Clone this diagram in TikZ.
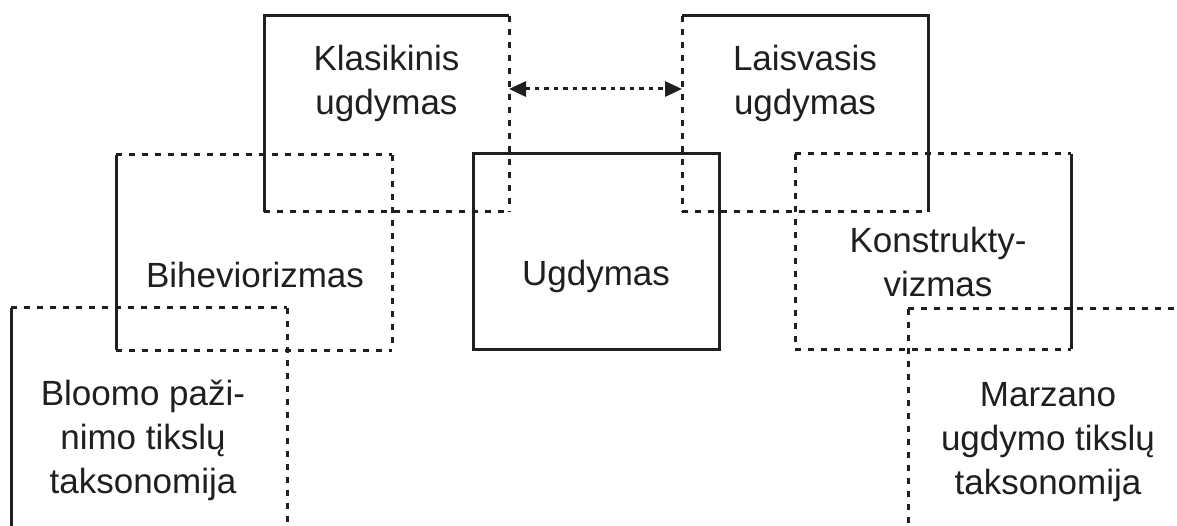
\documentclass[tikz,border=0pt]{standalone}
\usepackage{fontspec}
\setmainfont{Liberation Sans}
\usetikzlibrary{arrows.meta}

\tikzset{
  frame/.style={rectangle, inner sep=0pt, outer sep=0pt},
  solidedge/.style={line width=3pt, line cap=butt, line join=miter, draw=black!88},
  dashedge/.style={line width=3pt, draw=black!88, dash pattern=on 6pt off 7pt},
  label/.style={align=center, inner sep=0pt, text=black!88,
    font=\fontsize{35}{44}\selectfont},
  relation/.style={line width=3pt, draw=black!88, dash pattern=on 4.5pt off 5pt,
    {Triangle[length=17pt, width=15pt]}-{Triangle[length=17pt, width=15pt]}},
}

\begin{document}
\begin{tikzpicture}[x=1pt, y=-1pt]
  \useasboundingbox (0,0) rectangle (1177,526);
  \clip (0,0) rectangle (1177,526);

  % frames of the concept boxes
  \node[frame, minimum width=245pt, minimum height=196pt] (klas)  at (386.5,114) {};
  \node[frame, minimum width=246pt, minimum height=196pt] (lais)  at (805,114) {};
  \node[frame, minimum width=276pt, minimum height=195pt] (bihe)  at (254,252.5) {};
  \node[frame, minimum width=276pt, minimum height=195pt] (kons)  at (933,251.5) {};
  \node[frame, minimum width=246pt, minimum height=195pt] (ugd)   at (596,251.5) {};
  \node[frame, minimum width=276pt, minimum height=240pt] (bloom) at (149,428) {};
  \node[frame, minimum width=276pt, minimum height=240pt] (marz)  at (1046,429) {};

  % Klasikinis ugdymas: solid top and left, dashed right and bottom
  \draw[solidedge] (klas.south west) -- (klas.north west) -- (klas.north east);
  \draw[dashedge] (klas.north east) -- (klas.south east);
  \draw[dashedge] (klas.south west) -- (klas.south east);

  % Laisvasis ugdymas: solid top and right, dashed left and bottom
  \draw[solidedge] (lais.north west) -- (lais.north east) -- (lais.south east);
  \draw[dashedge] (lais.north west) -- (lais.south west);
  \draw[dashedge] (lais.south west) -- (lais.south east);

  % Biheviorizmas: solid left, the rest dashed
  \draw[solidedge] (bihe.north west) -- (bihe.south west);
  \draw[dashedge] (bihe.north west) -- (bihe.north east);
  \draw[dashedge] (bihe.north east) -- (bihe.south east);
  \draw[dashedge] (bihe.south west) -- (bihe.south east);

  % Konstruktyvizmas: solid right, the rest dashed
  \draw[solidedge] (kons.north east) -- (kons.south east);
  \draw[dashedge] (kons.north west) -- (kons.north east);
  \draw[dashedge] (kons.north west) -- (kons.south west);
  \draw[dashedge] (kons.south west) -- (kons.south east);

  % Ugdymas: fully solid
  \draw[solidedge] (ugd.north west) rectangle (ugd.south east);

  % Bloomo taxonomy: solid left, dashed top and right
  \draw[solidedge] (bloom.north west) -- (bloom.south west);
  \draw[dashedge] (bloom.north west) -- (bloom.north east);
  \draw[dashedge] (bloom.north east) -- (bloom.south east);

  % Marzano taxonomy: dashed left and top
  \draw[dashedge] (marz.north west) -- (marz.north east);
  \draw[dashedge] (marz.north west) -- (marz.south west);

  % labels
  \node[label] (klasT)  at (386.5,83) {Klasikinis\\ugdymas};
  \node[label] (laisT)  at (805,83)   {Laisvasis\\ugdymas};
  \node[label] (biheT)  at (255,275)  {Biheviorizmas};
  \node[label] (ugdT)   at (596,276)  {Ugdymas};
  \node[label] (konsT)  at (938,262)  {Konstrukty-\\vizmas};
  \node[label] (bloomT) at (143,440)  {Bloomo paži-\\nimo tikslų\\taksonomija};
  \node[label] (marzT)  at (1048,442) {Marzano\\ugdymo tikslų\\taksonomija};

  % two-way relation between the classical and the free approach
  \path (klas.north east) ++(0,73) coordinate (klasR);
  \path (lais.north west) ++(0,73) coordinate (laisL);
  \draw[relation] (klasR) -- (laisL);
\end{tikzpicture}
\end{document}
